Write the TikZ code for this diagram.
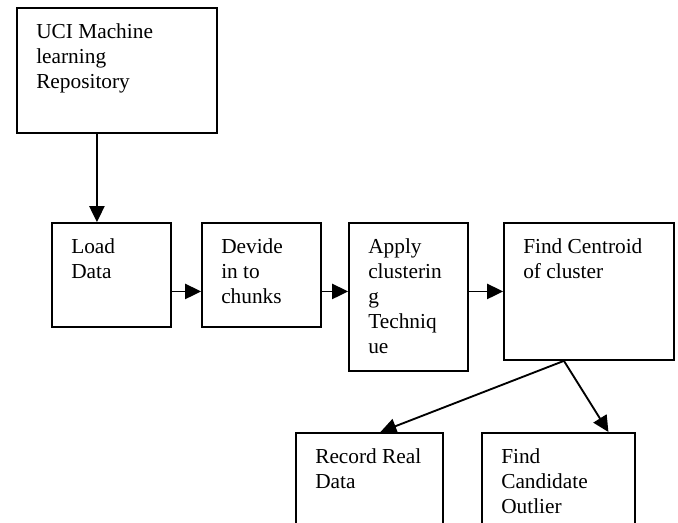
\documentclass[tikz,border=0pt]{standalone}
\usepackage{fontspec}
\setmainfont{Liberation Serif}
\usetikzlibrary{arrows.meta}
\usetikzlibrary{calc}
\newcommand{\px}{0.75pt}

\begin{document}
\begin{tikzpicture}[
    x=0.75pt, y=-0.75pt,
    box/.style={draw, line width=1.4pt, anchor=north west, inner sep=0pt},
    txt/.style={anchor=north west, align=left, inner xsep=20*\px, inner ysep=16*\px,
        font=\fontsize{16}{18.8}\selectfont},
    arr/.style={-{Triangle[length=12pt,width=11.5pt]}, line width=1.4pt}
    ]

    \useasboundingbox (0,0) rectangle (678,522);
    \clip (0,0) rectangle (678,522);
    % boxes
    \node[box, minimum width=200*\px, minimum height=125*\px] (uci) at (16,7) {};
    \node[box, minimum width=119*\px, minimum height=104*\px] (load) at (51,222) {};
    \node[box, minimum width=119*\px, minimum height=104*\px] (devide) at (201,222) {};
    \node[box, minimum width=119*\px, minimum height=148*\px] (apply) at (348,222) {};
    \node[box, minimum width=170*\px, minimum height=137*\px] (find) at (503,222) {};
    \node[box, minimum width=147*\px, minimum height=115*\px] (rec) at (295,432) {};
    \node[box, minimum width=153*\px, minimum height=115*\px] (cand) at (481,432) {};
    % texts
    \node[txt] (uciT) at (uci.north west) {UCI Machine\\learning\\Repository};
    \node[txt] (loadT) at (load.north west) {Load\\Data};
    \node[txt] (devideT) at (devide.north west) {Devide\\in to\\chunks};
    \node[txt] (applyT) at (apply.north west) {Apply\\clusterin\\g\\Techniq\\ue};
    \node[txt] (findT) at (find.north west) {Find Centroid\\of cluster};
    \node[txt] (recT) at (rec.north west) {Record Real\\Data};
    \node[txt] (candT) at (cand.north west) {Find\\Candidate\\Outlier};
    % arrows
    \draw[arr] ([xshift=-20*\px]uci.south) -- ([xshift=-20*\px]uci.south |- load.north);
    \draw[arr] (load.east |- find.east) -- (devide.west |- find.east);
    \draw[arr] (devide.east |- find.east) -- (apply.west |- find.east);
    \draw[arr] (apply.east |- find.east) -- (find.west);
    \draw[arr] ([xshift=-25*\px]find.south) -- ([xshift=11*\px]rec.north);
    \draw[arr] ([xshift=-25*\px]find.south) -- ([xshift=50*\px]cand.north);
\end{tikzpicture}
\end{document}
